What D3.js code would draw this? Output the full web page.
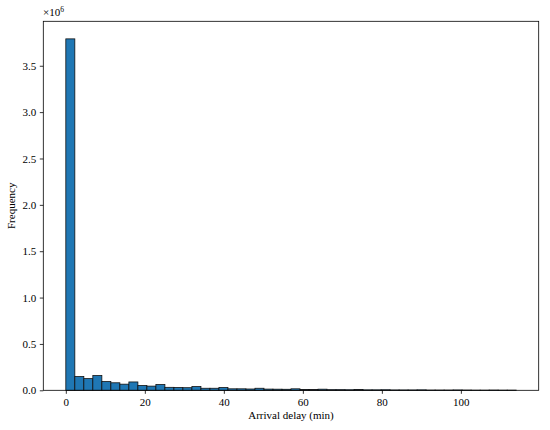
<!DOCTYPE html>
<html><head><meta charset="utf-8">
<script src="https://cdn.jsdelivr.net/npm/d3@7"></script>
<style>body{margin:0;background:#fff}svg{display:block}text{font-family:"Liberation Serif","DejaVu Serif",serif;fill:#000}</style>
</head><body>
<script>
// Histogram data: 50 bins from 0 to 114 minutes, counts in millions
const binMin = 0;
const binMax = 114;
const binCount = 50;
const counts = [3.79, 0.148, 0.126, 0.159, 0.094, 0.081, 0.066, 0.090, 0.052, 0.045,
  0.062, 0.032, 0.030, 0.028, 0.040, 0.022, 0.022, 0.030, 0.016, 0.016,
  0.014, 0.022, 0.013, 0.012, 0.011, 0.016, 0.009, 0.008, 0.012, 0.007,
  0.007, 0.006, 0.009, 0.005, 0.005, 0.006, 0.004, 0.004, 0.004, 0.005,
  0.003, 0.003, 0.003, 0.004, 0.003, 0.002, 0.002, 0.003, 0.002, 0.002];
const xTicks = [0, 20, 40, 60, 80, 100];
const yTicks = [0, 0.5, 1.0, 1.5, 2.0, 2.5, 3.0, 3.5];
const xLabel = "Arrival delay (min)";
const yLabel = "Frequency";

const W = 550, H = 430;
const m = {left: 43.3, right: 550 - 538.7, top: 21.3, bottom: 430 - 390.3};
const svg = d3.select("body").append("svg").attr("width", W).attr("height", H);
const pw = W - m.left - m.right, ph = H - m.top - m.bottom;
const g = svg.append("g").attr("transform", `translate(${m.left},${m.top})`);

const span = binMax - binMin;
const x = d3.scaleLinear().domain([binMin - 0.05 * span, binMax + 0.05 * span]).range([0, pw]);
const ymax = d3.max(counts) * 1.05;
const y = d3.scaleLinear().domain([0, ymax]).range([ph, 0]);
const bw = span / binCount;
const bins = counts.map((c, i) => ({x0: binMin + i * bw, x1: binMin + (i + 1) * bw, c}));

g.selectAll("rect.bar").data(bins).enter().append("rect").attr("class", "bar")
  .attr("x", d => x(d.x0)).attr("width", d => x(d.x1) - x(d.x0))
  .attr("y", d => y(d.c)).attr("height", d => ph - y(d.c))
  .attr("fill", "#1f77b4").attr("stroke", "#111").attr("stroke-width", 0.8);

const xa = g.append("g").attr("transform", `translate(0,${ph})`)
  .call(d3.axisBottom(x).tickValues(xTicks).tickFormat(d3.format("d")).tickSize(3.5).tickPadding(4.5));
const ya = g.append("g")
  .call(d3.axisLeft(y).tickValues(yTicks).tickFormat(d3.format(".1f")).tickSize(3.5).tickPadding(3.5));
[xa, ya].forEach(a => {
  a.select(".domain").remove();
  a.selectAll("line").attr("stroke", "#000").attr("stroke-width", 0.8);
  a.selectAll("text").style("font-size", "11px").style("font-family", '"Liberation Serif", serif');
});

g.append("rect").attr("x", 0).attr("y", 0).attr("width", pw).attr("height", ph)
  .attr("fill", "none").attr("stroke", "#000").attr("stroke-width", 0.8);

svg.append("text").attr("x", m.left + pw / 2).attr("y", 419).attr("text-anchor", "middle")
  .style("font-size", "11px").text(xLabel);
svg.append("text").attr("transform", `translate(15,${m.top + ph / 2}) rotate(-90)`).attr("text-anchor", "middle")
  .style("font-size", "11px").text(yLabel);
const off = svg.append("text").attr("x", 43).attr("y", 16).style("font-size", "11px");
off.append("tspan").text("\u00d710");
off.append("tspan").attr("dy", -4).style("font-size", "7.5px").text("6");
</script>
</body></html>
